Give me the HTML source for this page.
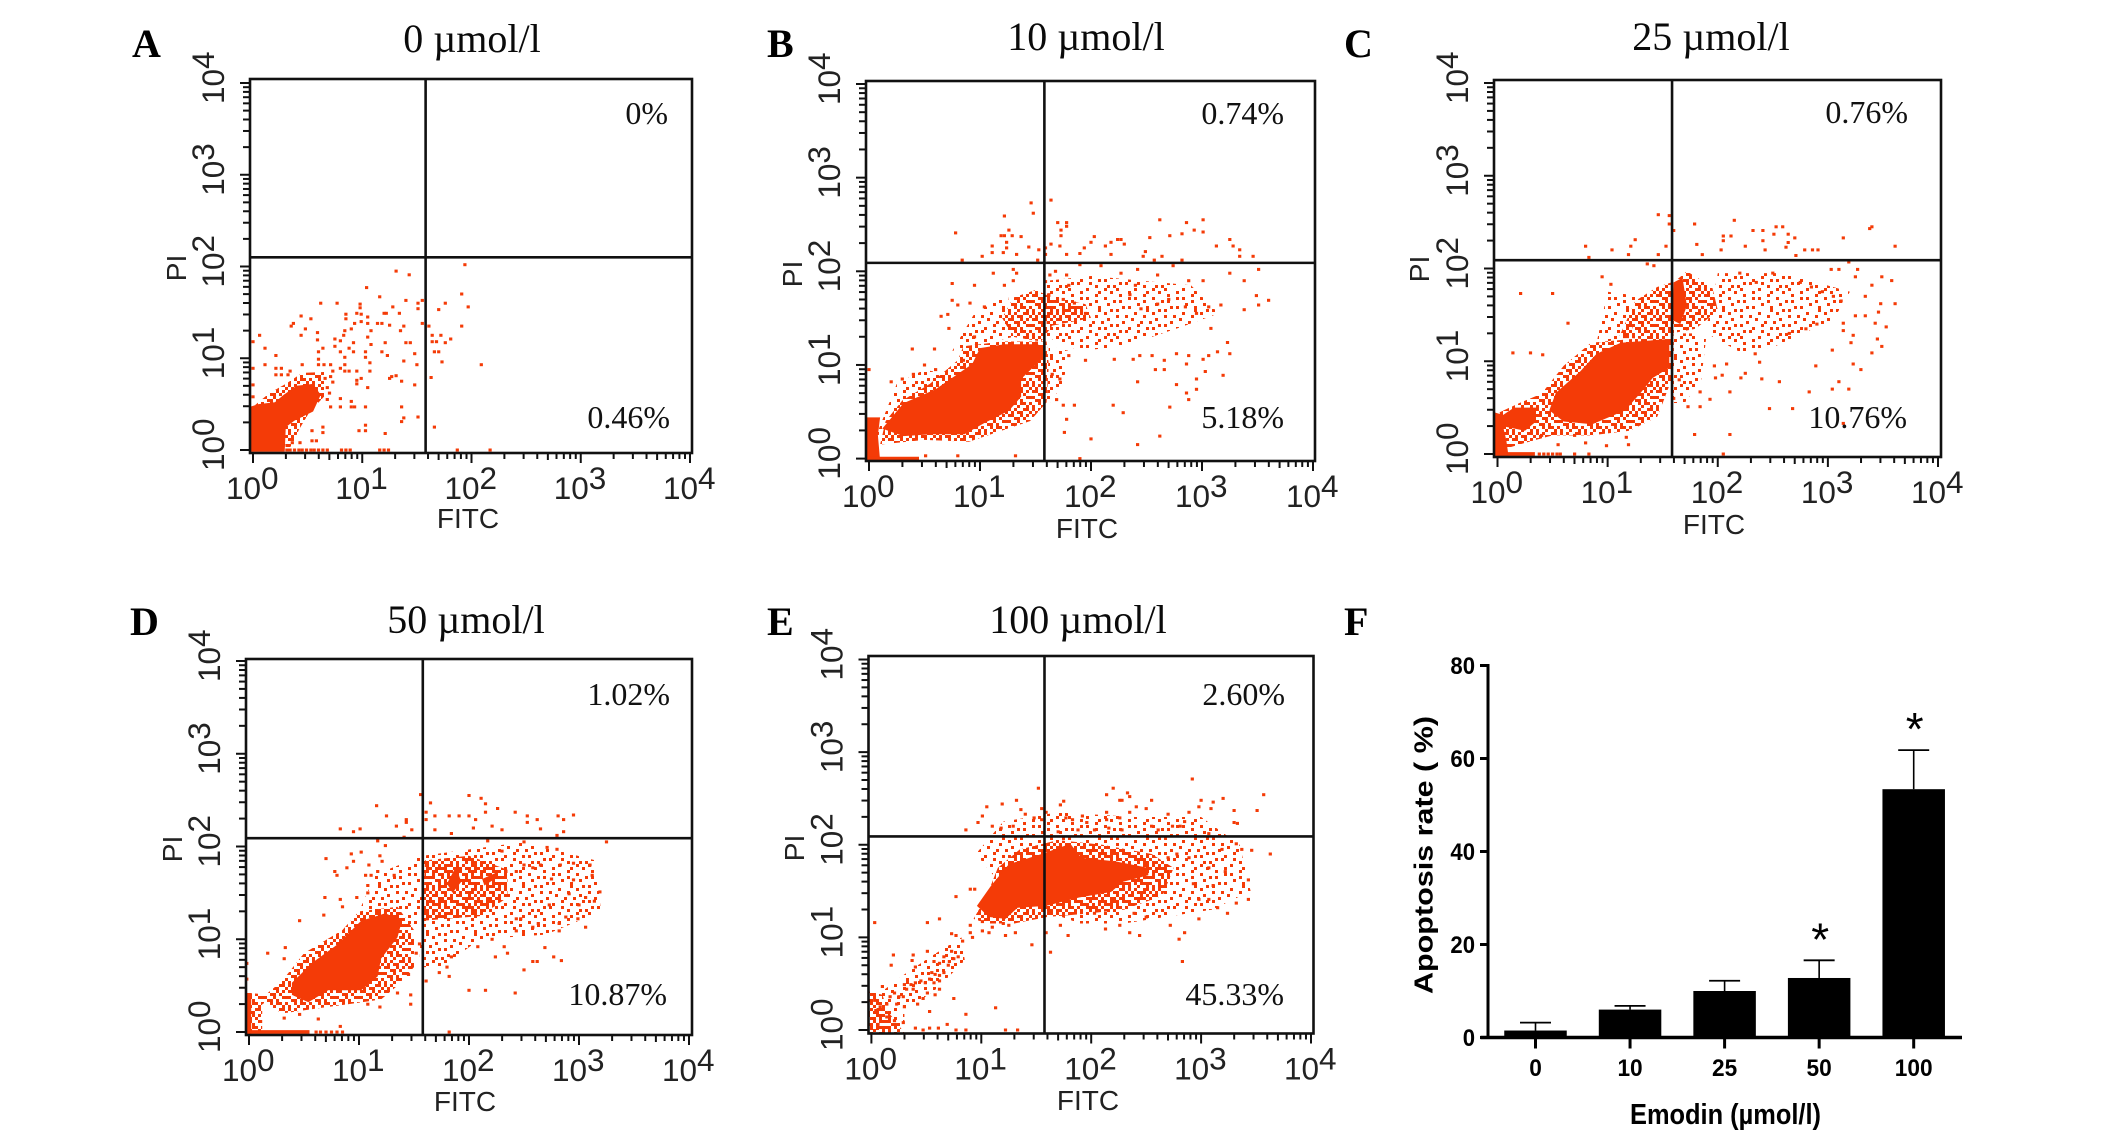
<!DOCTYPE html>
<html lang="en">
<head>
<meta charset="utf-8">
<title>Apoptosis flow cytometry panels</title>
<style>
html,body{margin:0;padding:0;background:#fff;width:2126px;height:1135px;overflow:hidden}
svg{display:block}
.ttl{font-family:"Liberation Serif",serif;font-size:40px;text-anchor:middle;fill:#0a0a0a}
.let{font-family:"Liberation Serif",serif;font-size:40px;font-weight:700;fill:#000}
.pct{font-family:"Liberation Serif",serif;font-size:32px;text-anchor:end;fill:#111}
.ax{font-family:"Liberation Sans",sans-serif;font-size:28px;fill:#222}
.tk{font-family:"Liberation Sans",sans-serif;font-size:31.5px;fill:#222}
.bt{font-family:"Liberation Sans",sans-serif;font-size:24px;font-weight:700;fill:#000}
</style>
</head>
<body>
<svg id="fig" xmlns="http://www.w3.org/2000/svg" width="2126" height="1135" viewBox="0 0 2126 1135">
<defs id="defs"></defs>
<rect width="2126" height="1135" fill="#fff"/>

<text class="let" x="132" y="57">A</text>
<text class="let" x="767" y="57">B</text>
<text class="let" x="1344" y="57">C</text>
<text class="let" x="130" y="635">D</text>
<text class="let" x="767" y="635">E</text>
<text class="let" x="1344" y="635">F</text>

<text class="ttl" x="472" y="52">0 µmol/l</text>
<text class="ttl" x="1086" y="50">10 µmol/l</text>
<text class="ttl" x="1711" y="50">25 µmol/l</text>
<text class="ttl" x="466" y="633">50 µmol/l</text>
<text class="ttl" x="1078" y="633">100 µmol/l</text>

<g id="plots"></g>

<text class="pct" x="668" y="124">0%</text>
<text class="pct" x="670" y="428">0.46%</text>
<text class="pct" x="1284" y="124">0.74%</text>
<text class="pct" x="1284" y="428">5.18%</text>
<text class="pct" x="1908" y="123">0.76%</text>
<text class="pct" x="1907" y="428">10.76%</text>
<text class="pct" x="670" y="705">1.02%</text>
<text class="pct" x="667" y="1005">10.87%</text>
<text class="pct" x="1285" y="705">2.60%</text>
<text class="pct" x="1284" y="1005">45.33%</text>

<text class="ax" x="468" y="528" text-anchor="middle">FITC</text>
<text class="ax" x="1087" y="538" text-anchor="middle">FITC</text>
<text class="ax" x="1714" y="534" text-anchor="middle">FITC</text>
<text class="ax" x="465" y="1111" text-anchor="middle">FITC</text>
<text class="ax" x="1088" y="1110" text-anchor="middle">FITC</text>
<text class="ax" transform="translate(186,268) rotate(-90)" text-anchor="middle">PI</text>
<text class="ax" transform="translate(802,274) rotate(-90)" text-anchor="middle">PI</text>
<text class="ax" transform="translate(1429,269) rotate(-90)" text-anchor="middle">PI</text>
<text class="ax" transform="translate(182,849) rotate(-90)" text-anchor="middle">PI</text>
<text class="ax" transform="translate(804,848) rotate(-90)" text-anchor="middle">PI</text>

<g id="barChart"></g>
<text transform="translate(1432.5,994) rotate(-90)" font-family="'Liberation Sans',sans-serif" font-weight="700" font-size="26" textLength="278" lengthAdjust="spacingAndGlyphs" fill="#000">Apoptosis rate ( %)</text>
<text x="1630" y="1124" font-family="'Liberation Sans',sans-serif" font-weight="700" font-size="29" textLength="191" lengthAdjust="spacingAndGlyphs" fill="#000">Emodin (µmol/l)</text>
</svg>

<script>
/* All scatter values are log10 decades: [FITC, PI]. */
const decadeExponents = [0, 1, 2, 3, 4];
const gateFitc = [1.58, 1.58, 1.585, 1.58, 1.575];
const gatePi = [2.10, 2.09, 2.09, 2.09, 2.09];

const denseA = [
 [[-.03,-.02],[.29,-.02],[.3,.25],[.38,.32],[.55,.42],[.62,.6],[.55,.72],[.4,.7],[.28,.6],[.2,.52],[.05,.5],[-.03,.47]]
];
const haloA = [
 [[.0,.47],[.15,.62],[.3,.72],[.45,.84],[.65,.85],[.65,.58],[.52,.42],[.42,.22],[.36,.05],[.3,0],[.28,.3],[.05,.47]]
];
const sparseA = [];
const eventsA = [[1.94,2.02],[1.31,1.95],[1.43,1.91],[1.04,1.77],[1.16,1.67],[1.4,1.63],[1.55,1.63],[1.91,1.7],[1.76,1.6],[1.7,1.53],[1.97,1.56],[.62,1.6],[.77,1.6],[.98,1.59],[.98,1.55],[1.28,1.56],[.44,1.46],[.53,1.43],[.37,1.38],[.35,1.35],[.85,1.48],[.85,1.43],[.95,1.49],[.99,1.48],[1.05,1.45],[1.2,1.49],[1.22,1.49],[1.34,1.49],[1.51,1.6],[1.51,1.54],[1.55,1.38],[1.61,1.35],[1.91,1.35],[.48,1.32],[.44,1.25],[.06,1.25],[0,1.18],[.59,1.28],[.59,1.2],[.83,1.25],[.8,1.19],[.84,1.3],[.9,1.32],[.93,1.38],[.99,1.4],[1.05,1.38],[1.14,1.38],[1.18,1.38],[1.25,1.36],[1.35,1.3],[1.38,1.35],[1.08,1.3],[1.05,1.23],[1.08,1.15],[.92,1.17],[.88,1.11],[.75,1.21],[.75,1.13],[.8,1.07],[.92,1.07],[.84,1.01],[.84,.93],[.8,.89],[.64,1.11],[.6,1.07],[.6,.99],[.6,.93],[.65,.93],[.71,.93],[.73,.86],[.71,.8],[.73,.74],[.84,.86],[.88,.86],[.95,.86],[1.07,.86],[1.07,.95],[1.03,1.07],[1.03,1.01],[1.18,1.07],[1.21,1.17],[1.23,1.03],[1.4,1.17],[1.44,1.17],[1.48,1.05],[1.5,.93],[1.38,.97],[1.64,1.18],[1.68,1.18],[1.64,1.25],[1.72,1.25],[1.76,1.17],[1.81,1.21],[1.66,1.07],[1.7,1.07],[1.73,.96],[2.09,.93],[1.63,.79],[.21,1.03],[.11,1.11],[0,.89],[.11,.93],[.45,.93],[.21,.89],[.26,.89],[.21,.82],[.26,.82],[.34,.86],[.32,.82],[1.27,.8],[1.31,.81],[1.25,.78],[1.36,.75],[1.48,.71],[.95,.76],[.99,.78],[1.05,.68],[.95,.72],[.9,.53],[.8,.56],[.71,.47],[.8,.47],[.9,.47],[.93,.47],[1.03,.47],[1.36,.47],[1.38,.35],[1.51,.36],[1.66,.25],[1.36,.31],[1.03,.27],[1.03,.21],[.97,.21],[1.21,.18],[.54,.21],[.64,.25],[.64,.19],[.54,.1],[.58,.1],[.43,.08],[.36,.08],[.31,0],[.34,0],[.38,0],[.42,0],[.45,0],[.49,0],[.53,0],[.56,0],[.6,0],[.64,0],[.68,0],[.81,0],[.85,0],[.89,0],[1.16,0],[1.2,0],[1.24,0],[1.87,0],[2.17,0],[0,.71],[0,.58],[.66,.78],[.68,.68],[.7,.62],[.68,.55]];

const denseB = [
 [[.12,.32],[.31,.59],[.6,.74],[.93,1.01],[1.0,1.18],[1.22,1.22],[1.52,1.22],[1.57,1.18],[1.57,1.08],[1.37,.85],[1.37,.66],[1.26,.51],[1.04,.38],[.86,.26],[.56,.26],[.31,.24]],
 [[-.03,-.02],[.1,-.02],[.08,.25],[.1,.44],[-.03,.44]],
 [[0,-.02],[.45,-.02],[.45,.02],[0,.02]]
];
const haloB = [
 [[.1,.15],[.15,.4],[.3,.62],[.55,.8],[.8,1.05],[.85,1.2],[1.2,1.25],[1.6,1.25],[1.62,1.0],[1.6,.6],[1.45,.4],[1.2,.3],[.9,.18],[.5,.2]],
 [[1.2,1.5],[1.3,1.72],[1.5,1.8],[1.65,1.72],[1.95,1.65],[2.0,1.5],[1.65,1.42],[1.55,1.25],[1.3,1.3]]
];
const sparseB = [
 [[.75,1.15],[.95,1.55],[1.25,1.75],[1.3,1.3]],
 [[.05,.2],[.25,.8],[.5,.95],[.7,.9],[.3,.55]],
 [[1.6,1.3],[1.6,1.9],[2.0,1.95],[2.9,1.85],[3.15,1.55],[2.8,1.4],[2.3,1.2],[1.9,1.15]],
 [[1.6,.55],[1.62,1.2],[1.8,1.15],[1.75,.8]]
];
const eventsB = [[1.64,2.76],[1.46,2.73],[1.48,2.62],[1.22,2.59],[.78,2.41],[1.26,2.44],[1.22,2.38],[1.19,2.38],[1.29,2.38],[1.37,2.37],[1.24,2.31],[1.24,2.25],[1.11,2.27],[1.11,2.2],[1.21,2.2],[1.33,2.18],[1.44,2.26],[1.02,2.16],[.84,2.12],[1.53,2.23],[1.52,2.12],[1.7,2.52],[1.78,2.52],[1.78,2.48],[1.73,2.44],[1.73,2.38],[1.64,2.29],[1.59,2.25],[1.72,2.27],[1.78,2.18],[1.59,2.18],[1.94,2.25],[1.9,2.19],[2,2.31],[2.03,2.37],[2.13,2.27],[2.18,2.31],[2.24,2.34],[2.27,2.34],[2.3,2.29],[2.18,2.18],[2.47,2.16],[2.49,2.21],[2.53,2.36],[2.62,2.55],[2.71,2.38],[2.82,2.4],[2.86,2.52],[2.93,2.44],[3.01,2.55],[3.01,2.42],[3.13,2.27],[3.25,2.34],[3.28,2.27],[3.34,2.23],[3.34,2.16],[3.46,2.16],[2.57,2.12],[2.64,2.16],[2.82,2.12],[2.74,2.06],[3.51,2.02],[3.25,1.98],[3.38,1.9],[3.01,1.9],[2.88,1.9],[2.6,1.96],[2.42,2.02],[2.27,1.98],[2.09,2.06],[1.9,2.07],[1.78,1.96],[1.68,2],[1.63,1.96],[1.59,1.89],[1.3,2.02],[1.33,1.98],[1.12,1.98],[1.3,1.9],[1.22,1.85],[.95,1.85],[.75,1.87],[.75,1.69],[.91,1.66],[.8,1.64],[1.04,1.62],[.71,1.54],[.65,1.52],[.72,1.39],[.39,1.17],[.59,1.17],[0,.95],[3.49,1.74],[3.6,1.69],[3.51,1.64],[3.38,1.59],[3.17,1.64],[3.06,1.62],[3.08,1.39],[3.23,1.24],[3.14,1.14],[3.25,1.12],[3.01,1.06],[3.06,1.1],[2.88,1.1],[2.77,1.12],[2.66,1.05],[2.66,.95],[2.58,.95],[2.44,1.1],[2.55,1.1],[2.38,1.06],[2.21,1.06],[2.86,1.01],[3.03,.93],[3.19,.89],[2.95,.85],[2.77,.79],[2.95,.74],[2.86,.7],[2.88,.63],[2.71,.55],[2.2,.57],[2.29,.49],[2.42,.82],[1.75,.57],[1.85,.57],[1.69,.63],[1.78,.42],[1.76,.28],[2,.21],[2.42,.15],[2.62,.24],[1.9,0],[.51,.03],[.8,.03],[1.32,.03],[1.62,1.75],[1.75,1.7],[1.85,1.66],[1.95,1.55],[1.8,1.85],[2.35,1.75],[2.4,1.85],[2.45,1.6],[2.6,1.65],[2.7,1.7],[2.85,1.62],[2.95,1.55],[.95,1.3],[.85,1.05],[.5,1.0],[.4,.9],[.3,.85],[.2,.82],[.6,.95],[1.65,.9],[1.72,.85],[1.8,1.1],[1.95,1.05]];

const denseC = [
 [[.53,.66],[.75,.89],[.9,1.08],[1.12,1.2],[1.56,1.24],[1.56,.93],[1.41,.82],[1.3,.66],[1.16,.47],[.86,.32],[.6,.35],[.47,.47]],
 [[-.03,-.02],[.1,-.02],[.08,.15],[.05,.3],[.25,.25],[.35,.35],[.35,.5],[.15,.5],[.05,.42],[-.03,.45]],
 [[0,-.02],[.34,-.02],[.34,.02],[0,.02]],
 [[1.58,1.45],[1.6,1.85],[1.68,1.9],[1.72,1.6],[1.66,1.4]]
];
const haloC = [
 [[.05,.05],[.02,.45],[.2,.55],[.4,.65],[.6,.95],[.85,1.2],[1.58,1.28],[1.58,.8],[1.5,.55],[1.45,.4],[1.2,.25],[.85,.2],[.5,.2],[.25,.12]],
 [[1.1,1.25],[1.25,1.65],[1.45,1.8],[1.58,1.85],[1.58,1.25]],
 [[1.58,1.3],[1.6,1.85],[1.72,1.97],[1.95,1.8],[2.0,1.55],[1.8,1.35]]
];
const sparseC = [
 [[.9,1.2],[1.0,1.75],[1.3,1.7],[1.2,1.25]],
 [[1.58,.55],[1.6,1.3],[1.9,1.3],[1.85,.8],[1.7,.55]],
 [[1.9,1.3],[2.0,1.95],[2.6,1.95],[3.2,1.75],[3.05,1.45],[2.5,1.15],[2.2,1.1]],
 [[1.9,1.4],[2.0,1.8],[2.6,1.85],[2.9,1.65],[2.4,1.3]]
];
const eventsC = [[1.46,2.58],[1.56,2.57],[1.56,2.48],[1.6,2.41],[1.79,2.48],[2.15,2.52],[1.25,2.31],[1.21,2.24],[.8,2.24],[1.04,2.2],[.83,2.12],[1.19,2.15],[1.46,2.15],[1.53,2.24],[1.36,2.05],[1.42,2.03],[1.81,2.26],[1.86,2.15],[2.05,2.35],[2.12,2.35],[2.05,2.3],[2.03,2.2],[2.25,2.24],[2.32,2.41],[2.41,2.41],[2.41,2.3],[2.43,2.2],[2.53,2.45],[2.59,2.45],[2.51,2.37],[2.64,2.37],[2.7,2.33],[2.64,2.28],[2.62,2.23],[2.71,2.14],[2.79,2.2],[2.86,2.2],[2.91,2.2],[3.14,2.33],[3.38,2.43],[3.4,2.45],[3.61,2.24],[3.03,1.99],[3.1,1.99],[3.19,2.07],[3.27,1.99],[3.25,1.91],[3.49,1.91],[3.58,1.87],[3.4,1.82],[3.34,1.7],[3.48,1.62],[3.61,1.62],[3.46,1.53],[3.25,1.49],[3.34,1.49],[3.14,1.41],[3.43,1.41],[3.53,1.37],[3.14,1.33],[3.23,1.28],[3.21,1.2],[3.45,1.24],[3.49,1.16],[3.04,1.12],[3.4,1.09],[3.23,.97],[3.3,.91],[2.89,.95],[3.1,.78],[3.04,.7],[3.19,.7],[2.83,.67],[2.56,.78],[2.68,.49],[2.47,.49],[3.14,.33],[2.11,.67],[2.25,.87],[2.21,.82],[2.4,.81],[2.34,1.08],[2.38,.99],[1.79,.21],[2.11,.21],[2.05,0],[1.73,.51],[1.84,.51],[1.93,.59],[1.84,.67],[1.98,.82],[2.08,.97],[1.97,.95],[2.04,.85],[.21,1.73],[.5,1.73],[.95,1.91],[1.03,1.83],[.64,1.41],[.14,1.09],[.3,1.09],[.41,1.07],[.99,.09],[1.19,.1],[1.17,.18],[.7,0],[.83,0],[.38,0],[.42,0],[.46,0],[.5,0],[.54,0],[.57,0],[1.65,.8],[1.6,.6],[.4,.2],[.55,.1],[.7,.2],[.8,.12],[2.2,1.95],[2.35,1.85],[2.5,1.95],[2.75,1.85],[2.85,1.8],[2.95,1.75],[3.05,1.7],[3.12,1.65],[2.65,1.3],[2.8,1.35],[2.9,1.4]];

const denseD = [
 [[.39,.53],[.58,.75],[.8,.94],[1.02,1.2],[1.24,1.28],[1.39,1.2],[1.35,1.02],[1.2,.79],[1.17,.6],[1.02,.45],[.72,.45],[.54,.32],[.39,.4]],
 [[-.03,-.03],[.02,-.03],[.02,.42],[-.03,.42]],
 [[0,-.02],[.55,-.02],[.55,.02],[0,.02]],
 [[1.8,1.6],[1.88,1.78],[1.93,1.62],[1.85,1.5]],
 [[2.12,1.65],[2.25,1.72],[2.25,1.66],[2.14,1.58]]
];
const haloD = [
 [[.1,.35],[.3,.55],[.5,.85],[.85,1.1],[1.0,1.3],[1.35,1.35],[1.5,1.1],[1.5,.7],[1.35,.5],[1.2,.35],[.9,.3],[.6,.25],[.3,.2]],
 [[1.58,1.2],[1.6,1.85],[2.0,1.9],[2.35,1.75],[2.35,1.45],[2.1,1.25]],
 [[0,0],[.12,0],[.12,.3],[.3,.42],[.4,.3],[.45,.55],[.2,.4],[0,.42]]
];
const sparseD = [
 [[1.0,1.3],[1.15,1.7],[1.58,1.9],[1.6,1.2],[1.45,1.1]],
 [[1.58,1.9],[2.5,2.05],[3.15,1.85],[3.2,1.3],[2.7,1.05],[2.1,1.0],[1.75,.7],[1.55,.7]]
];
const eventsD = [[1.56,2.56],[1.16,2.44],[1.65,2.47],[2,2.55],[2.11,2.52],[2.15,2.46],[2.26,2.41],[2.15,2.37],[2.42,2.37],[2.53,2.33],[2.62,2.29],[2.81,2.33],[2.86,2.29],[2.95,2.34],[1.61,2.37],[1.69,2.33],[1.61,2.29],[1.82,2.33],[1.91,2.33],[2,2.33],[2.06,2.29],[1.43,2.29],[1.43,2.26],[1.25,2.33],[.83,2.19],[.95,2.16],[1.01,2.19],[1.34,2.22],[1.48,2.18],[2.04,2.2],[2.21,2.22],[2.3,2.18],[2.53,2.26],[2.65,2.19],[2.86,2.16],[2.8,2.12],[1.69,2.18],[1.84,2.14],[1.17,2.06],[1.24,2.01],[1.41,2.1],[3.25,2.05],[.7,1.87],[.93,1.92],[1.02,1.94],[.95,1.84],[.78,1.73],[.8,1.69],[.89,1.77],[1.06,1.69],[1.11,1.69],[1.09,1.8],[1.21,1.84],[1.19,1.9],[1.17,1.73],[1.32,1.69],[1.08,1.58],[1.08,1.5],[.98,1.45],[.83,1.43],[.69,1.45],[.85,1.35],[.46,1.2],[.68,1.26],[.17,.85],[.33,.91],[.32,.79],[-.02,.74],[-.02,.57],[3.1,1.8],[3.12,1.69],[3.19,1.51],[3.14,1.41],[3.06,1.45],[3,1.37],[3.06,1.13],[2.99,1.22],[2.88,1.24],[2.82,1.17],[2.82,1.09],[2.73,1.37],[2.91,1.49],[2.83,1.8],[2.95,1.82],[2.95,1.64],[2.75,1.65],[2.65,1.8],[2.58,1.77],[2.43,1.73],[2.5,1.8],[2.71,1.99],[2.8,1.97],[2.5,2.05],[2.3,1.95],[2.17,2.06],[2.63,1.17],[2.58,1.13],[2.43,1.22],[2.47,1.22],[2.43,1.09],[2.69,.91],[2.77,.81],[2.84,.77],[2.58,.76],[2.62,.76],[2.5,.67],[2,.45],[2.15,.45],[2.42,.42],[2.24,.81],[2.35,.85],[2.21,1],[2.08,.92],[2.32,.92],[1.73,.64],[1.82,.6],[1.61,.55],[1.8,.7],[1.84,.81],[1.47,.4],[1.47,.3],[1.19,.27],[1.08,.3],[1.82,0],[.83,.06],[.32,.15],[.63,.14],[.46,.19],[.61,0],[.65,0],[.7,0],[.75,0],[.8,0],[.85,0],[1.55,.95],[1.52,.85],[1.45,.62],[1.35,.42]];

const denseE = [
 [[.96,1.34],[1.09,1.56],[1.25,1.79],[1.55,1.9],[1.81,2.01],[1.91,1.86],[2.22,1.82],[2.52,1.75],[2.52,1.67],[2.29,1.6],[2.18,1.49],[1.89,1.43],[1.59,1.34],[1.33,1.32],[1.22,1.2],[1.07,1.22]]
];
const haloE = [
 [[.93,1.2],[1.05,1.45],[1.15,1.75],[1.35,1.95],[1.7,2.05],[2.1,2.0],[2.55,1.9],[2.75,1.75],[2.65,1.45],[2.3,1.3],[1.9,1.25],[1.6,1.22],[1.3,1.15],[1.05,1.15]],
 [[-.03,-.03],[.3,-.03],[.15,.2],[.1,.38],[-.03,.42]]
];
const sparseE = [
 [[.95,1.9],[1.2,2.25],[1.7,2.35],[2.4,2.3],[3.0,2.3],[3.35,2.0],[3.45,1.5],[3.1,1.3],[2.3,1.15],[1.9,1.15],[1.3,1.4]],
 [[-.02,0],[.1,.42],[.3,.6],[.55,.8],[.82,1.0],[.85,.75],[.6,.45],[.3,.2],[.3,0]]
];
const eventsE = [[2.92,2.71],[1.52,2.61],[2.2,2.61],[2.26,2.48],[2.14,2.54],[2.33,2.56],[2.35,2.52],[2.28,2.48],[1.75,2.47],[1.72,2.43],[1.19,2.44],[1.32,2.48],[1.05,2.41],[1.36,2.38],[1.55,2.39],[2.55,2.48],[2.41,2.41],[2.5,2.39],[2.35,2.35],[3.57,2.54],[3.51,2.37],[3.2,2.5],[3.11,2.46],[3,2.48],[3.09,2.39],[2.98,2.41],[2.89,2.35],[3.3,2.37],[3.3,2.24],[3.33,2.23],[2.85,2.25],[2.81,2.2],[2.74,2.2],[2.7,2.33],[2.55,2.2],[2.61,2.16],[1.01,2.31],[.97,2.24],[.86,2.16],[1.1,2.2],[1.18,2.18],[1.29,2.2],[1.4,2.33],[1.48,2.29],[1.55,2.27],[1.59,2.35],[1.7,2.14],[1.77,2.29],[1.83,2.27],[1.92,2.31],[1.96,2.24],[2.14,2.35],[2.14,2.27],[2.26,2.29],[2.28,2.16],[2.16,2.18],[2.03,2.16],[1.88,2.16],[3.07,2.12],[3.19,1.95],[3.32,2.01],[3.37,1.95],[3.46,1.94],[3.63,1.9],[3.43,1.62],[3.43,1.41],[3.32,1.37],[3.24,1.26],[3.15,1.32],[3.07,1.41],[2.98,1.41],[2.93,1.58],[3.11,1.56],[3.22,1.71],[3.07,1.75],[2.89,1.86],[2.7,1.86],[2.78,1.9],[2.98,1.2],[2.85,1.05],[2.8,.98],[2.83,.74],[2.72,1.13],[2.44,1.02],[2.35,1.05],[2.26,1.13],[2.13,1.09],[2.5,1.22],[2.39,1.26],[2.03,1.26],[1.79,1.02],[1.72,1.13],[1.59,1.05],[1.63,.84],[1.46,.92],[1.22,1.02],[1.31,1.05],[.03,1.16],[.51,1.16],[.62,1.2],[.77,1.44],[.9,1.52],[.94,1.52],[.83,.96],[.9,1.13],[.9,1.05],[.92,1],[.73,1.04],[.77,1.02],[1.01,1.17],[1.01,1.07],[1.07,1.05],[1.2,1.15],[1.25,1.13],[1.1,1.11],[.73,.85],[.66,.79],[.71,.74],[.75,.77],[.79,.79],[.7,.7],[.62,.72],[.57,.74],[.51,.85],[.38,.81],[.2,.81],[.18,.7],[.37,.75],[.4,.68],[.55,.62],[.58,.6],[.62,.59],[.66,.62],[.53,.55],[.49,.51],[.57,.51],[.62,.53],[.45,.53],[.4,.51],[.36,.49],[.38,.44],[.3,.49],[.21,.4],[.25,.36],[.29,.36],[.17,.36],[.1,.47],[.32,.44],[.51,.4],[.62,.44],[.58,.38],[.75,.34],[.47,.34],[.42,.28],[.3,.25],[.23,.28],[.14,.28],[.08,.25],[.03,.32],[.04,.21],[.14,.14],[.21,.1],[.29,.08],[.06,.06],[1.13,.24],[.86,.17],[.53,.2],[.4,.02],[.47,0],[.53,.02],[.61,.02],[.69,.06],[.86,0],[.77,0],[1.22,0],[1.33,0]];

const barCategories = ['0', '10', '25', '50', '100'];
const barMeans = [1.5, 6, 10, 12.8, 53.4];
const barErrorTops = [3.2, 6.8, 12.2, 16.6, 61.8];
const barSignificant = [false, false, false, true, true];
const barTicks = [0, 20, 40, 60, 80];

/* Layout */
const panelFrames = [
 {id:'a', x0:250, x1:692, y0:79, y1:453, xt0:253, xt4:690, yt0:450, yt4:83},
 {id:'b', x0:866, x1:1315, y0:81, y1:461, xt0:869, xt4:1313, yt0:458.6, yt4:84},
 {id:'c', x0:1494, x1:1941, y0:80, y1:457, xt0:1497.5, xt4:1938, yt0:454, yt4:83},
 {id:'d', x0:246, x1:692, y0:659, y1:1035, xt0:249, xt4:689, yt0:1032, yt4:661},
 {id:'e', x0:868.5, x1:1313.5, y0:656, y1:1033.5, xt0:871.4, xt4:1311, yt0:1030, yt4:659.5}
];
const panelDense = [denseA, denseB, denseC, denseD, denseE];
const panelHalo = [haloA, haloB, haloC, haloD, haloE];
const panelSparse = [sparseA, sparseB, sparseC, sparseD, sparseE];
const panelEvents = [eventsA, eventsB, eventsC, eventsD, eventsE];

const NS = 'http://www.w3.org/2000/svg';
const INK = '#111';
const DOT = '#f43b07';
function make(tag, parent, attrs) {
  const n = document.createElementNS(NS, tag);
  for (const k in attrs) n.setAttribute(k, attrs[k]);
  parent.appendChild(n);
  return n;
}

/* Irregular grain textures for the cloud regions (appearance only). */
function grain(id, rows) {
  const side = rows.length * 3;
  const pat = make('pattern', document.getElementById('defs'), {id: id, patternUnits: 'userSpaceOnUse', width: side, height: side});
  rows.forEach((row, j) => {
    for (let c = 0; c < row.length; c++) {
      if (row[c] === 'x') make('rect', pat, {x: c * 3, y: j * 3, width: 3, height: 3, fill: DOT});
    }
  });
}
grain('haloFill', ['x.x..xx.', '.x.xx..x', 'xx..x.x.', '..xx.x..', 'x..x..xx', '.xx.x...', '..x.xx.x', 'x..x..x.']);
grain('sparseFill', ['x...x.....x.....', '..x.....x.....x.', '.....x.......x..', 'x.......x.x.....', '...x.x.......x..', '.x.........x....', '......x.x.....x.', '..x.x.........x.', 'x.........x.....', '....x..x.....x..', '.x.......x......', '......x.....x..x', '..x.x......x....', 'x.......x.....x.', '.....x.x...x....', '.x.x.........x..']);

function powerLabel(parent, exp, attrs) {
  const t = make('text', parent, attrs);
  t.setAttribute('class', 'tk');
  const a = make('tspan', t, {});
  a.textContent = '10';
  const b = make('tspan', t, {dy: '-10'});
  b.textContent = String(exp);
  return t;
}

const plots = document.getElementById('plots');
panelFrames.forEach((f, i) => {
  const X = v => f.xt0 + v * (f.xt4 - f.xt0) / 4;
  const Y = p => f.yt0 - p * (f.yt0 - f.yt4) / 4;
  const poly = pts => pts.map(q => X(q[0]).toFixed(1) + ',' + Y(q[1]).toFixed(1)).join(' ');

  const g = make('g', plots, {});
  
  

  panelSparse[i].forEach(pts => {
    const s = make('polygon', g, {points: poly(pts), fill: 'url(#sparseFill)'});
    
    
  });
  panelHalo[i].forEach(pts => {
    const h = make('polygon', g, {points: poly(pts), fill: 'url(#haloFill)'});
    
    
  });
  panelDense[i].forEach(pts => {
    const d = make('polygon', g, {points: poly(pts), fill: DOT});
    
    
  });
  panelEvents[i].forEach(q => {
    const r = make('rect', g, {x: (X(q[0]) - 1.6).toFixed(1), y: (Y(q[1]) - 1.5).toFixed(1), width: 3.2, height: 3, fill: DOT});
    
    
  });

  /* ticks */
  const ticks = make('g', g, {stroke: INK, 'stroke-width': 2});
  
  
  decadeExponents.forEach(e => {
    for (let m = 1; m < 10; m++) {
      if (e === 4 && m > 1) break;
      const o = e + Math.log10(m);
      const len = m === 1 ? 10 : (m === 5 ? 7 : 6);
      make('line', ticks, {x1: X(o), x2: X(o), y1: f.y1, y2: f.y1 + len});
      make('line', ticks, {y1: Y(o), y2: Y(o), x1: f.x0, x2: f.x0 - (m === 1 ? 10 : 7)});
    }
    const xl = powerLabel(g, e, {x: X(e) - 27, y: f.y1 + 46});
    
    
    const yl = powerLabel(g, e, {transform: 'translate(' + (f.x0 - 26) + ',' + (Y(e) + 21) + ') rotate(-90)'});
    
    
  });

  const frame = make('rect', g, {x: f.x0, y: f.y0, width: f.x1 - f.x0, height: f.y1 - f.y0, fill: 'none', stroke: INK, 'stroke-width': 2.6});
  
  

  const vg = make('line', g, {x1: X(gateFitc[i]), x2: X(gateFitc[i]), y1: f.y0, y2: f.y1, stroke: INK, 'stroke-width': 2.6});
  
  

  const hg = make('line', g, {x1: f.x0, x2: f.x1, y1: Y(gatePi[i]), y2: Y(gatePi[i]), stroke: INK, 'stroke-width': 2.6});
  
  
});

/* Bar chart */
const bc = document.getElementById('barChart');
const barY = v => 1037.5 - v * (1037.5 - 665.5) / 80;
const barX = i => 1535.5 + i * 94.55;
const barW = 62.5;
barMeans.forEach((v, i) => {
  const cx = barX(i);
  const stem = make('line', bc, {x1: cx, x2: cx, y1: barY(v), y2: barY(barErrorTops[i]), stroke: '#000', 'stroke-width': 1.6});
  
  
  const cap = make('line', bc, {x1: cx - 15.5, x2: cx + 15.5, y1: barY(barErrorTops[i]), y2: barY(barErrorTops[i]), stroke: '#000', 'stroke-width': 1.8});
  
  
  const bar = make('rect', bc, {x: cx - barW / 2, y: barY(v), width: barW, height: barY(0) - barY(v), fill: '#000'});
  
  
  const tick = make('line', bc, {x1: cx, x2: cx, y1: barY(0), y2: barY(0) + 11, stroke: '#000', 'stroke-width': 3});
  
  
  const lab = make('text', bc, {x: cx, y: 1076, 'text-anchor': 'middle', 'class': 'bt', textLength: barCategories[i].length * 12.6, lengthAdjust: 'spacingAndGlyphs'});
  lab.textContent = barCategories[i];
  
  
  if (barSignificant[i]) {
    const st = make('text', bc, {x: cx + 1, y: barY(barErrorTops[i]) - 5, 'text-anchor': 'middle', 'font-family': "'Liberation Sans',sans-serif", 'font-size': 46, fill: '#000'});
    st.textContent = '*';
    
    
  }
});
barTicks.forEach(v => {
  const t = make('line', bc, {x1: 1480, x2: 1488, y1: barY(v), y2: barY(v), stroke: '#000', 'stroke-width': 3});
  
  
  const l = make('text', bc, {x: 1475, y: barY(v) + 8.5, 'text-anchor': 'end', 'class': 'bt', textLength: String(v).length * 12.3, lengthAdjust: 'spacingAndGlyphs'});
  l.textContent = String(v);
  
  
});
const yAxisLine = make('line', bc, {x1: 1488, x2: 1488, y1: barY(80) - 1.5, y2: barY(0) + 1.5, stroke: '#000', 'stroke-width': 3});


const xAxisLine = make('line', bc, {x1: 1480.5, x2: 1962, y1: barY(0), y2: barY(0), stroke: '#000', 'stroke-width': 3.5});


</script>
</body>
</html>
